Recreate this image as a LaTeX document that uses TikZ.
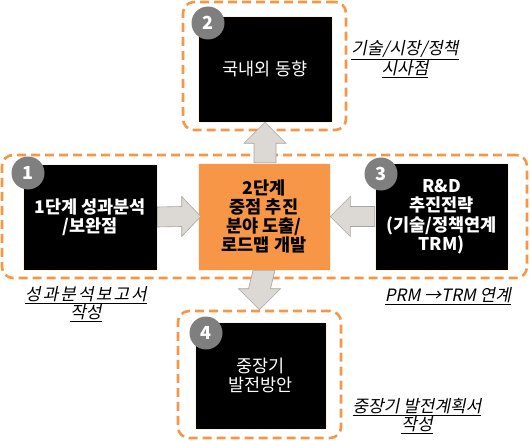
\documentclass[tikz,border=0pt]{standalone}
\usepackage{fontspec}
\setmainfont{Noto Sans CJK KR}
\newfontfamily\labelfont[FakeSlant=0.2]{Noto Sans CJK KR}
\newfontfamily\labelfontwide[FakeSlant=0.2,LetterSpace=12]{Noto Sans CJK KR}
\usetikzlibrary{calc}
\definecolor{orng}{HTML}{F79646}
\definecolor{arrfill}{HTML}{DCD8D3}
\definecolor{arrline}{HTML}{A6A6A6}
\definecolor{circgray}{HTML}{7F7F7F}
\tikzset{
  blackbox/.style={fill=black, draw=white!90!orange, line width=0.6pt, text=white, align=center, inner sep=0pt, font=\fontsize{17.5}{19.5}\selectfont},
  frame/.style={draw=orng, line width=2.6pt, dash pattern=on 9pt off 5pt, rounded corners=11pt, inner sep=0pt},
  numcirc/.style={circle, fill=circgray, text=white, font=\fontsize{18}{18}\selectfont\bfseries, inner sep=0pt, minimum size=33pt},
  blockarrow/.style={fill=arrfill, draw=arrline, line width=0.6pt},
  note/.style={align=center, font=\labelfont\fontsize{17}{18.5}\selectfont, text=black}
}
\begin{document}
\begin{tikzpicture}[x=1pt,y=-1pt]
\useasboundingbox (0,0) rectangle (530,441);
% frames
\node[frame, minimum width=525pt, minimum height=123pt] (fm) at (264.5,216.5) {};
\node[frame, minimum width=163pt, minimum height=128pt] (f2) at (264.5,66) {};
\node[frame, minimum width=163pt, minimum height=127pt] (f4) at (259.5,374.5) {};
% boxes
\node[fill=orng, draw=white!90!orange, line width=0.6pt, minimum width=132pt, minimum height=107pt, align=center, inner sep=0pt, font=\fontsize{17.5}{19}\selectfont\bfseries] (c) at (264,216.5) {2단계\\중점 추진\\분야 도출/\\로드맵 개발};
\node[blackbox, font=\fontsize{17.5}{19.5}\selectfont\bfseries, minimum width=134pt, minimum height=106pt] (b1) at (90,217) {1단계 성과분석\\/보완점};
\node[blackbox, font=\fontsize{17.5}{19.5}\selectfont\bfseries, minimum width=133pt, minimum height=107pt] (b3) at (441.5,216.5) {R\&D\\추진전략\\(기술/정책연계\\TRM)};
\node[blackbox, minimum width=134pt, minimum height=106pt] (b2) at (265,69) {국내외 동향};
\node[blackbox, minimum width=131pt, minimum height=107pt] (b4) at (260.5,375.5) {중장기\\발전방안};
% numbers
\node[numcirc] (n1) at (28,173) {1};
\node[numcirc] (n2) at (208,23) {2};
\node[numcirc] (n3) at (381,174) {3};
\node[numcirc] (n4) at (206,333) {4};
% arrows
\draw[blockarrow] ($(c.north)+(-10,0)$) -- ($(b2.south)+(-11,21)$) -- ($(b2.south)+(-21,21)$) -- (b2.south) -- ($(b2.south)+(21,21)$) -- ($(b2.south)+(11,21)$) -- ($(c.north)+(12,0)$) -- cycle;
\draw[blockarrow] ($(c.south)+(-11,0)$) -- ($(f4.north)+(-11,-21)$) -- ($(f4.north)+(-21,-21)$) -- (f4.north) -- ($(f4.north)+(21,-21)$) -- ($(f4.north)+(11,-21)$) -- ($(c.south)+(11,0)$) -- cycle;
\draw[blockarrow] ($(b1.east)+(0,-10)$) -- ($(c.west)+(-16,-10)$) -- ($(c.west)+(-16,-20)$) -- ($(c.west)+(3,0)$) -- ($(c.west)+(-16,20)$) -- ($(c.west)+(-16,10)$) -- ($(b1.east)+(0,10)$) -- cycle;
\draw[blockarrow] ($(b3.west)+(0,-10)$) -- ($(c.east)+(20,-10)$) -- ($(c.east)+(20,-20)$) -- (c.east) -- ($(c.east)+(20,20)$) -- ($(c.east)+(20,10)$) -- ($(b3.west)+(0,10)$) -- cycle;
% notes
\node[note] (l2) at (405,59) {\underline{기술/시장/정책}\\\underline{시사점}};
\node[note] (l1) at (86,304) {\underline{\labelfontwide 성과분석보고서}\\\underline{작성}};
\node[note] (l3) at (448,296) {\underline{PRM →TRM 연계}};
\node[note] (l4) at (417,416) {\underline{중장기 발전계획서}\\\underline{작성}};
\end{tikzpicture}
\end{document}
